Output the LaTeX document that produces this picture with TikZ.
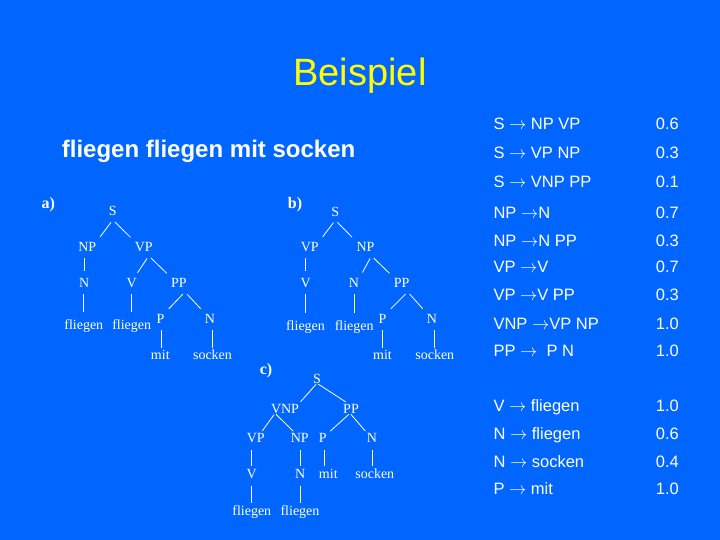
\documentclass[tikz,border=0pt]{standalone}
\usepackage{fontspec}
\setmainfont{Liberation Sans}
\newfontfamily\serifx{Liberation Serif}
\definecolor{bg}{RGB}{0,102,255}
\definecolor{titley}{RGB}{255,255,0}
\newcommand{\ra}{$\rightarrow$}
\begin{document}
\begin{tikzpicture}[x=1pt,y=-1pt,
  tr/.style={font=\serifx\fontsize{14}{14}\selectfont, text=white, inner sep=1pt, text height=10pt, text depth=3pt, anchor=base},
  lbl/.style={font=\serifx\bfseries\fontsize{16}{16}\selectfont, text=white, anchor=base, inner sep=0pt},
  ln/.style={draw=white, line width=0.8pt},
  dab/.style={ln, shorten <=3pt, shorten >=4.5pt},
  vab/.style={ln, shorten <=2.5pt, shorten >=5.8pt},
  vabt/.style={ln, shorten <=2.5pt, shorten >=0.4pt},
  dc/.style={ln, shorten <=1.5pt, shorten >=0.5pt},
  vc/.style={ln, shorten <=3pt, shorten >=1.3pt},
  rule/.style={font=\fontsize{16.5}{16.5}\selectfont, text=white, anchor=base west, inner sep=0pt},
]
\fill[bg] (0,0) rectangle (720,540);
\useasboundingbox (0,0) rectangle (720,540);

% title and sentence
\node[font=\fontsize{38}{38}\selectfont, text=titley, anchor=base, inner sep=0pt] (title) at (360,86) {Beispiel};
\node[font=\bfseries\fontsize{24}{24}\selectfont, text=white, anchor=base west, inner sep=0pt] (sent) at (61.7,157.3) {fliegen fliegen mit socken};

% tree a)
\node[lbl] (la) at (48.3,209) {a)};
\node[tr] (aS) at (112.8,215.7) {S};
\node[tr] (aNP) at (87.3,251.7) {NP};
\node[tr] (aVP) at (143.8,251.7) {VP};
\node[tr] (aN) at (84.3,287.7) {N};
\node[tr] (aV) at (131.7,287.7) {V};
\node[tr] (aPP) at (179,287.7) {PP};
\node[tr] (aF1) at (83.8,329.3) {fliegen};
\node[tr] (aF2) at (131.7,329.3) {fliegen};
\node[tr] (aP) at (160.5,323.3) {P};
\node[tr] (aN2) at (210,323.3) {N};
\node[tr] (aM) at (160.3,359.3) {mit};
\node[tr] (aSo) at (212.5,359.3) {socken};
\draw[dab] (aS.south) -- (aNP.north east);
\draw[dab] (aS.south) -- (aVP.north west);
\draw[vab] (aN.north |- aNP.south) -- (aN.north);
\draw[dab] ([xshift=5pt]aVP.south) -- ([xshift=-3pt]aV.north east);
\draw[dab] ([xshift=5pt]aVP.south) -- (aPP.north west);
\draw[vab] (aF1.north |- aN.south) -- (aF1.north);
\draw[vab] (aF2.north |- aV.south) -- (aF2.north);
\draw[dab] ([xshift=6pt]aPP.south) -- (aP.north east);
\draw[dab] ([xshift=6pt]aPP.south) -- (aN2.north west);
\draw[vabt] ([xshift=1.5pt]aM.north |- aP.south) -- ([xshift=1.5pt]aM.north);
\draw[vabt] (aSo.north |- aN2.south) -- (aSo.north);

% tree b)
\node[lbl] (lb) at (295,209) {b)};
\node[tr] (bS) at (335.3,216) {S};
\node[tr] (bVP) at (309.7,251.7) {VP};
\node[tr] (bNP) at (365.5,251.7) {NP};
\node[tr] (bV) at (305.8,287.7) {V};
\node[tr] (bN) at (354,287.7) {N};
\node[tr] (bPP) at (401.7,287.7) {PP};
\node[tr] (bF1) at (305.5,330) {fliegen};
\node[tr] (bF2) at (354.2,330) {fliegen};
\node[tr] (bP) at (382.5,323.3) {P};
\node[tr] (bN2) at (432,323.3) {N};
\node[tr] (bM) at (382.5,359.3) {mit};
\node[tr] (bSo) at (434.8,359.3) {socken};
\draw[dab] (bS.south) -- (bVP.north east);
\draw[dab] (bS.south) -- (bNP.north west);
\draw[vab] (bV.north |- bVP.south) -- (bV.north);
\draw[dab] ([xshift=6pt]bNP.south) -- (bN.north east);
\draw[dab] ([xshift=6pt]bNP.south) -- (bPP.north west);
\draw[vab] (bF1.north |- bV.south) -- (bF1.north);
\draw[vab] (bF2.north |- bN.south) -- (bF2.north);
\draw[dab] ([xshift=6pt]bPP.south) -- (bP.north east);
\draw[dab] ([xshift=6pt]bPP.south) -- (bN2.north west);
\draw[vabt] (bM.north |- bP.south) -- (bM.north);
\draw[vabt] (bSo.north |- bN2.south) -- (bSo.north);

% tree c)
\node[lbl] (lc) at (266,374) {c)};
\node[tr] (cS) at (317,383.3) {S};
\node[tr] (cVNP) at (285,413.3) {VNP};
\node[tr] (cPP) at (351,413.3) {PP};
\node[tr] (cVP) at (255.7,442.7) {VP};
\node[tr] (cNP) at (299.7,442.7) {NP};
\node[tr] (cP) at (322.8,442.7) {P};
\node[tr] (cN) at (372,442.7) {N};
\node[tr] (cV) at (251.7,478.3) {V};
\node[tr] (cN2) at (300.2,478.3) {N};
\node[tr] (cM) at (328.3,478.3) {mit};
\node[tr] (cSo) at (374.8,478.3) {socken};
\node[tr] (cF1) at (251.8,515) {fliegen};
\node[tr] (cF2) at (300,515) {fliegen};
\draw[dc] (cS.base) -- (cVNP.north east);
\draw[dc] (cS.base) -- ([xshift=4pt]cPP.north west);
\draw[dc] ([xshift=-10pt]cVNP.base) -- ([xshift=-4pt]cVP.north east);
\draw[dc] ([xshift=-10pt]cVNP.base) -- ([xshift=4pt]cNP.north west);
\draw[dc] ([xshift=-1pt]cPP.base) -- ([xshift=2pt]cP.north east);
\draw[dc] ([xshift=-1pt]cPP.base) -- (cN.north west);
\draw[vc] (cV.north |- cVP.south) -- (cV.north);
\draw[vc] (cN2.north |- cNP.south) -- (cN2.north);
\draw[vc] ([xshift=2pt]cP.south) -- ([xshift=2pt]cP.south |- cM.north);
\draw[vc] (cN.south) -- (cN.south |- cSo.north);
\draw[vc] (cF1.north |- cV.south) -- (cF1.north);
\draw[vc] (cF2.north |- cN2.south) -- (cF2.north);

% rules
\node[rule] (r1) at (493.3,129.3) {S \ra\ NP VP};
\node[rule] (r2) at (493.3,158.3) {S \ra\ VP NP};
\node[rule] (r3) at (493.3,187.7) {S \ra\ VNP PP};
\node[rule] (r4) at (493.3,218.3) {NP \ra N};
\node[rule] (r5) at (493.3,246) {NP \ra N PP};
\node[rule] (r6) at (493.3,272.7) {VP \ra V};
\node[rule] (r7) at (493.3,300.3) {VP \ra V PP};
\node[rule] (r8) at (493.3,329.3) {VNP \ra VP NP};
\node[rule] (r9) at (493.3,356) {PP \ra\ \ P N};
\node[rule] (r10) at (493.3,411.7) {V \ra\ fliegen};
\node[rule] (r11) at (493.3,439.3) {N \ra\ fliegen};
\node[rule] (r12) at (493.3,467.3) {N \ra\ socken};
\node[rule] (r13) at (493.3,494.3) {P \ra\ mit};
\node[rule] (p1) at (655.7,129.3) {0.6};
\node[rule] (p2) at (655.7,158.3) {0.3};
\node[rule] (p3) at (655.7,187.7) {0.1};
\node[rule] (p4) at (655.7,218.3) {0.7};
\node[rule] (p5) at (655.7,246) {0.3};
\node[rule] (p6) at (655.7,272.7) {0.7};
\node[rule] (p7) at (655.7,300.3) {0.3};
\node[rule] (p8) at (655.7,329.3) {1.0};
\node[rule] (p9) at (655.7,356) {1.0};
\node[rule] (p10) at (655.7,411.7) {1.0};
\node[rule] (p11) at (655.7,439.3) {0.6};
\node[rule] (p12) at (655.7,467.3) {0.4};
\node[rule] (p13) at (655.7,494.3) {1.0};
\end{tikzpicture}
\end{document}
